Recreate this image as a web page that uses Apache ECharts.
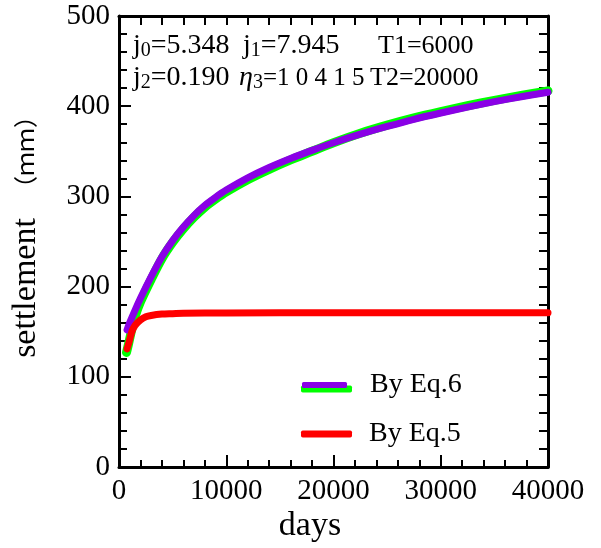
<!DOCTYPE html>
<html>
<head>
<meta charset="utf-8">
<script src="https://cdn.jsdelivr.net/npm/echarts@6/dist/echarts.min.js"></script>
<style>
	html, body { margin: 0; padding: 0; background: #fff; }
	#chart { width: 601px; height: 548px; }
</style>
</head>
<body>
<div id="chart"></div>
<script>
// measured settlement (green)
var measuredDays = [700, 900, 1200, 1500, 2000, 3000, 4000, 5000, 6000, 7000, 8000, 9000, 10000, 12000, 14000, 16000, 18000, 20000, 22500, 25000, 27500, 30000, 32500, 35000, 37500, 40000];
var measuredVals = [127, 137, 153, 167, 183, 208, 231, 249, 264, 277, 288, 297, 305, 318.5, 330, 340.5, 350, 359.5, 370, 379, 387, 394, 400.5, 406.5, 412, 417];

// By Eq.6 (purple)
var eq6Days = [750, 1000, 1500, 2000, 3000, 4000, 5000, 6000, 7000, 8000, 9000, 10000, 12000, 14000, 16000, 18000, 20000, 22500, 25000, 27500, 30000, 32500, 35000, 37500, 40000];
var eq6Vals = [152, 160, 174, 187, 211, 233, 251, 266, 279, 290, 299, 307, 320.5, 332, 342, 351, 359.5, 369, 377.5, 385.5, 392.5, 399, 405, 410.5, 415.5];

// By Eq.5 (red)
var eq5Days = [750, 900, 1200, 1500, 2000, 2500, 3000, 4000, 5000, 6000, 10000, 20000, 30000, 40000];
var eq5Vals = [131, 137, 150, 157, 163, 166.5, 168, 169.5, 170, 170.5, 170.8, 171, 171, 171];

var xTicks = [0, 10000, 20000, 30000, 40000];
var yTicks = [0, 100, 200, 300, 400, 500];

var serif = 'Liberation Serif';

function pairs(xs, ys) {
	var out = [];
	for (var i = 0; i < xs.length; i++) {
		out.push([xs[i], ys[i]]);
	}
	return out;
}

var myChart = echarts.init(document.getElementById('chart'), null, { renderer: 'canvas' });

var subRich = {
	n: { fontSize: 28, fontFamily: serif, lineHeight: 30, color: '#000' },
	m: { fontSize: 26, fontFamily: serif, lineHeight: 30, color: '#000' },
	k: { fontSize: 25, fontFamily: serif, lineHeight: 30, color: '#000' },
	s: { fontSize: 20, fontFamily: serif, lineHeight: 20, verticalAlign: 'bottom', color: '#000' },
	i: { fontSize: 28, fontFamily: serif, fontStyle: 'italic', lineHeight: 30, color: '#000' }
};

function note(x, y, text) {
	return {
		type: 'text',
		x: x,
		y: y,
		style: {
			text: text,
			align: 'left',
			verticalAlign: 'middle',
			rich: subRich
		}
	};
}

/*
 * tick-only axes: pushed into the plot by their own length so that
 * the (outward) ticks end on the frame, i.e. they point inward
 */
function tickAxis(pos, max, interval, len) {
	return {
		type: 'value',
		position: pos,
		offset: -len,
		min: 0,
		max: max,
		interval: interval,
		axisLine: { show: false, onZero: false, lineStyle: { opacity: 0, width: 0 } },
		axisTick: { show: true, length: len, lineStyle: { color: '#000', width: 2 } },
		axisLabel: { show: false },
		splitLine: { show: false }
	};
}

var frameLine = { show: true, onZero: false, lineStyle: { color: '#000', width: 3 } };

var option = {
	backgroundColor: '#fff',
	animation: false,
	grid: { left: 119, right: 53, top: 16, bottom: 81 },
	xAxis: [{
		type: 'value',
		position: 'bottom',
		min: 0,
		max: 40000,
		interval: 10000,
		axisLine: frameLine,
		axisTick: { show: false },
		axisLabel: {
			margin: 10, color: '#000', fontFamily: serif, fontSize: 29,
			formatter: function (v) { return xTicks.indexOf(v) >= 0 ? String(v) : ''; }
		},
		splitLine: { show: false }
	}, {
		type: 'value',
		position: 'top',
		min: 0,
		max: 40000,
		axisLine: frameLine,
		axisTick: { show: false },
		axisLabel: { show: false },
		splitLine: { show: false }
	},
		tickAxis('bottom', 40000, 10000, 12),
		tickAxis('bottom', 40000, 2000, 7),
		tickAxis('top', 40000, 2000, 9)
	],
	yAxis: [{
		type: 'value',
		position: 'left',
		min: 0,
		max: 500,
		interval: 100,
		axisLine: frameLine,
		axisTick: { show: false },
		axisLabel: {
			margin: 9, color: '#000', fontFamily: serif, fontSize: 29,
			formatter: function (v) { return yTicks.indexOf(v) >= 0 ? String(v) : ''; }
		},
		splitLine: { show: false }
	}, {
		type: 'value',
		position: 'right',
		min: 0,
		max: 500,
		axisLine: frameLine,
		axisTick: { show: false },
		axisLabel: { show: false },
		splitLine: { show: false }
	},
		tickAxis('left', 500, 100, 12),
		tickAxis('left', 500, 20, 8),
		tickAxis('right', 500, 20, 9)
	],
	legend: [{
		data: ['measured'],
		left: 301,
		top: 375,
		z: 3,
		padding: 0,
		icon: 'roundRect',
		itemWidth: 51,
		itemHeight: 7,
		selectedMode: false,
		formatter: function () { return ' '; },
		textStyle: { fontSize: 28, lineHeight: 28, fontFamily: serif, color: '#000' }
	}, {
		data: ['By Eq.6'],
		left: 302,
		top: 369,
		z: 5,
		padding: 0,
		icon: 'roundRect',
		itemWidth: 45,
		itemHeight: 6,
		selectedMode: false,
		textStyle: { fontSize: 28, lineHeight: 28, fontFamily: serif, color: '#000', padding: [4, 0, 0, 18] }
	}, {
		data: ['By Eq.5'],
		left: 301,
		top: 415,
		z: 5,
		padding: 0,
		icon: 'roundRect',
		itemWidth: 51,
		itemHeight: 7,
		selectedMode: false,
		textStyle: { fontSize: 28, lineHeight: 28, fontFamily: serif, color: '#000', padding: [10, 0, 0, 12] }
	}],
	series: [{
		name: 'measured',
		type: 'line',
		smooth: 0.3,
		showSymbol: false,
		symbol: 'none',
		z: 2,
		itemStyle: { color: '#00ff00' },
		lineStyle: { color: '#00ff00', width: 9, cap: 'round', join: 'round' },
		data: pairs(measuredDays, measuredVals)
	}, {
		name: 'By Eq.6',
		type: 'line',
		smooth: 0.3,
		showSymbol: false,
		symbol: 'none',
		z: 3,
		itemStyle: { color: '#8a00e6' },
		lineStyle: { color: '#8a00e6', width: 7, cap: 'round', join: 'round' },
		data: pairs(eq6Days, eq6Vals)
	}, {
		name: 'By Eq.5',
		type: 'line',
		smooth: 0.3,
		showSymbol: false,
		symbol: 'none',
		z: 4,
		itemStyle: { color: '#ff0000' },
		lineStyle: { color: '#ff0000', width: 7, cap: 'round', join: 'round' },
		data: pairs(eq5Days, eq5Vals)
	}],
	graphic: [
		note(133, 46, '{n|j}{s|0}{n|=5.348}'),
		note(243, 46, '{n|j}{s|1}{n|=7.945}'),
		note(378, 46, '{m|T1=6000}'),
		note(133, 78, '{n|j}{s|2}{n|=0.190}'),
		note(239, 78, '{i|η}{s|3}{k|=1 0 4 1 5}'),
		note(370, 78, '{m|T2=20000}'),
		{
			type: 'text',
			x: 310,
			y: 526,
			style: {
				text: 'days',
				font: '34px "Liberation Serif"',
				fill: '#000',
				align: 'center',
				verticalAlign: 'middle'
			}
		}, {
			type: 'text',
			x: 26,
			y: 288,
			rotation: Math.PI / 2,
			style: {
				text: 'settlement',
				font: '34px "Liberation Serif"',
				fill: '#000',
				align: 'center',
				verticalAlign: 'middle'
			}
		}, {
			type: 'text',
			x: 25,
			y: 152,
			rotation: Math.PI / 2,
			style: {
				text: '（ｍｍ）',
				font: '24px "Noto Sans CJK SC"',
				fill: '#000',
				align: 'center',
				verticalAlign: 'middle'
			}
		}
	]
};

myChart.setOption(option);
</script>
</body>
</html>
